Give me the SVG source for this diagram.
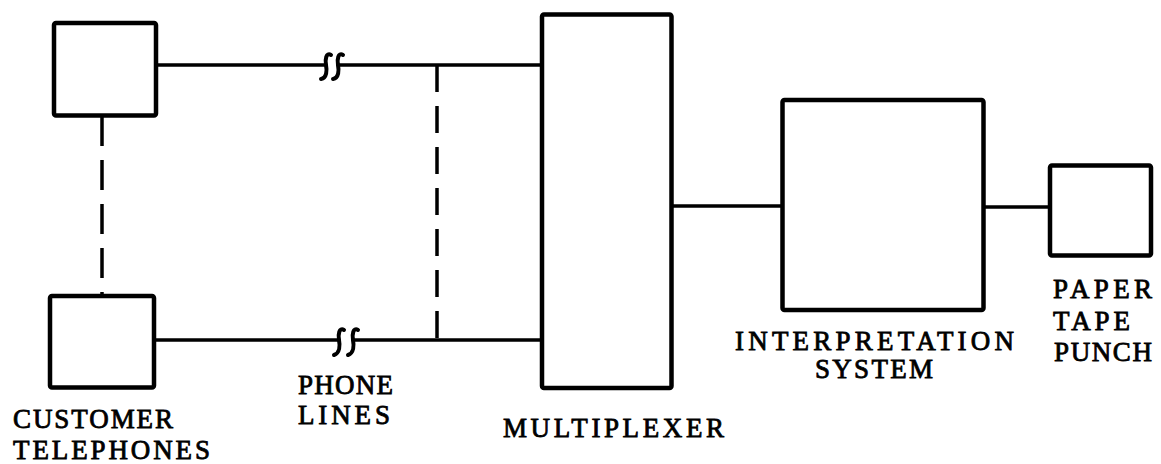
<svg xmlns="http://www.w3.org/2000/svg" width="1161" height="464" viewBox="0 0 1161 464">
  <style>
    .box { fill: #fff; stroke: #000; stroke-width: 4.5; stroke-linejoin: round; }
    .wire { fill: none; stroke: #000; stroke-width: 3.5; stroke-linecap: round; }
    .dash { fill: none; stroke: #000; stroke-width: 3.5; }
    .brk { fill: none; stroke: #000; stroke-width: 4; stroke-linecap: round; }
    .lbl { font-family: "Liberation Serif", "Times New Roman", serif; font-size: 27px; fill: #000; stroke: #000; stroke-width: 0.8; }
  </style>
  <rect width="1161" height="464" fill="#fff"/>

  <!-- connectors -->
  <g id="connectors">
    <!-- upper phone line with break -->
    <line class="wire" x1="156" y1="65" x2="326" y2="65"/>
    <line class="wire" x1="338" y1="65" x2="542" y2="65"/>
    <path class="brk" d="M331 55 C326 52 325 60 326 65 C327 70 327 78 321 79"/>
    <path class="brk" d="M343 55 C338 52 337 60 338 65 C339 70 339 78 333 79"/>
    <!-- lower phone line with break -->
    <line class="wire" x1="154" y1="340" x2="339" y2="340"/>
    <line class="wire" x1="353" y1="340" x2="542" y2="340"/>
    <path class="brk" d="M344 330 C339 327 338 335 339 340 C340 345 340 353 334 355"/>
    <path class="brk" d="M358 330 C353 327 352 335 353 340 C354 345 354 353 348 355"/>
    <!-- dashed links between phones and between lines -->
    <line class="dash" x1="102" y1="116" x2="102" y2="295" stroke-dasharray="30 14"/>
    <line class="dash" x1="437" y1="65" x2="437" y2="340" stroke-dasharray="27 14"/>
    <!-- multiplexer to interpretation system -->
    <line class="wire" x1="671" y1="206" x2="782" y2="206"/>
    <!-- interpretation system to paper tape punch -->
    <line class="wire" x1="984" y1="207" x2="1050" y2="207"/>
  </g>

  <g id="tel-top">
    <rect class="box" x="54" y="23" width="102" height="92.5" rx="2"/>
  </g>
  <g id="tel-bottom">
    <rect class="box" x="50" y="296" width="104" height="91.5" rx="2"/>
    <text class="lbl" x="13" y="428" textLength="160" lengthAdjust="spacing">CUSTOMER</text>
    <text class="lbl" x="13" y="459" textLength="197" lengthAdjust="spacing">TELEPHONES</text>
  </g>
  <g id="phone-lines">
    <text class="lbl" x="298" y="394" textLength="95" lengthAdjust="spacing">PHONE</text>
    <text class="lbl" x="298" y="424" textLength="92" lengthAdjust="spacing">LINES</text>
  </g>
  <g id="multiplexer">
    <rect class="box" x="542" y="14.5" width="129.5" height="373.5" rx="2"/>
    <text class="lbl" x="503" y="437" textLength="221" lengthAdjust="spacing">MULTIPLEXER</text>
  </g>
  <g id="interpretation">
    <rect class="box" x="782.5" y="100" width="201" height="210" rx="2"/>
    <text class="lbl" x="735" y="350" textLength="279" lengthAdjust="spacing">INTERPRETATION</text>
    <text class="lbl" x="815" y="378" textLength="118" lengthAdjust="spacing">SYSTEM</text>
  </g>
  <g id="tape-punch">
    <rect class="box" x="1050" y="165.5" width="101" height="90" rx="2"/>
    <text class="lbl" x="1053" y="298" textLength="99" lengthAdjust="spacing">PAPER</text>
    <text class="lbl" x="1053" y="330" textLength="77" lengthAdjust="spacing">TAPE</text>
    <text class="lbl" x="1054" y="361" textLength="98" lengthAdjust="spacing">PUNCH</text>
  </g>
</svg>
